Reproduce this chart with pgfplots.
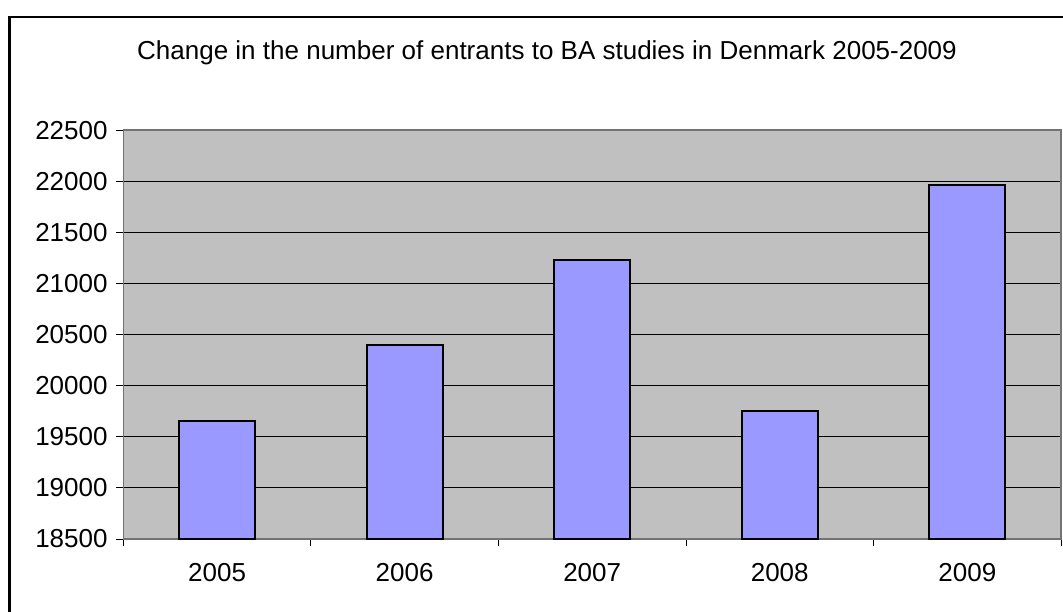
\documentclass[border=0pt]{standalone}
\usepackage{fontspec}
\setmainfont{Liberation Sans}
\usepackage{pgfplots}
\pgfplotsset{compat=1.18}
\definecolor{PlotGray}{RGB}{192,192,192}
\definecolor{BarBlue}{RGB}{153,153,255}
\begin{document}
\begin{tikzpicture}[x=0.02cm,y=0.02cm]
\useasboundingbox (0,0) rectangle (1063,612);
% chart frame (cut by the page edge on right and bottom)
\draw[black, line width=1.2pt] (9.5,-30) rectangle (1100,595);
\node[font=\fontsize{14.8}{17}\selectfont] at (547,559)
  {Change in the number of entrants to BA studies in Denmark 2005-2009};
\begin{axis}[
  at={(2.466cm,1.46cm)}, anchor=south west,
  scale only axis, width=18.76cm, height=8.18cm,
  ybar, bar width=0.405,
  xmin=-0.5, xmax=4.5,
  ymin=18500, ymax=22500,
  ytick distance=500,
  scaled y ticks=false,
  xtick={0,1,2,3,4},
  xticklabels={2005,2006,2007,2008,2009},
  minor xtick={-0.5,0.5,1.5,2.5,3.5,4.5},
  major x tick style={draw=none},
  minor tick length=0.14cm,
  major tick length=0.14cm,
  tick align=outside, tick pos=left,
  ymajorgrids, grid style={black, line width=0.5pt},
  axis background/.style={fill=PlotGray},
  axis line style={black!55, line width=0.8pt},
  tick style={black, line width=0.5pt},
  tick label style={font=\fontsize{14.8}{17}\selectfont},
  /pgf/number format/assume math mode=true,
  /pgf/number format/1000 sep={},
  xticklabel style={yshift=-0.22cm},
  yticklabel style={xshift=-0.05cm},
]
\addplot[fill=BarBlue, draw=black, line width=1.1pt] coordinates {
  (0,19650) (1,20400) (2,21230) (3,19750) (4,21960)
};
\end{axis}
\end{tikzpicture}
\end{document}
